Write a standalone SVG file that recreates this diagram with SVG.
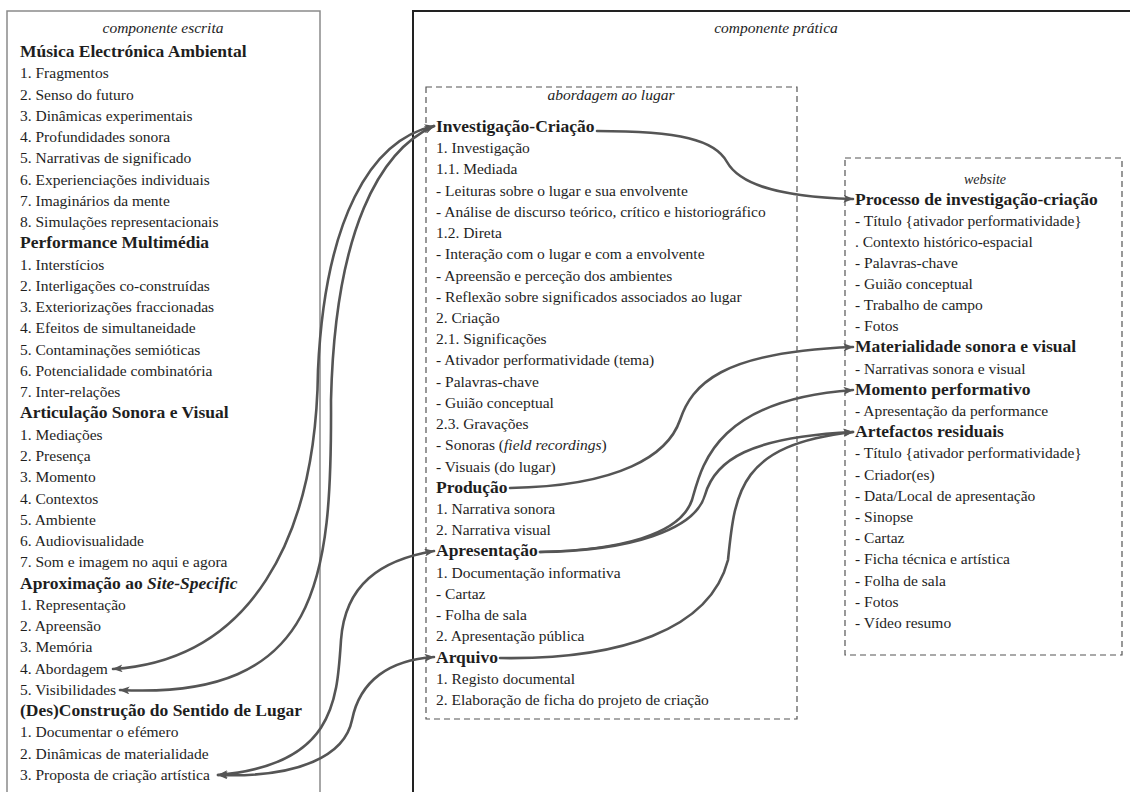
<svg xmlns="http://www.w3.org/2000/svg" width="1130" height="792" viewBox="0 0 1130 792">
  <style>
    text { font-family: "Liberation Serif", "DejaVu Serif", serif; fill: #1e1e1e; }
    .item { font-size: 15.5px; }
    .head { font-size: 17.5px; font-weight: bold; }
    .cap { font-size: 15.5px; font-style: italic; text-anchor: middle; }
    .cap-small { font-size: 14px; font-style: italic; text-anchor: middle; }
    .it { font-style: italic; }
    .frame-light { fill: none; stroke: #8a8a8a; stroke-width: 1.5; }
    .frame-dark { fill: none; stroke: #222; stroke-width: 2; }
    .dash { fill: none; stroke: #555; stroke-width: 1.2; stroke-dasharray: 6 4; }
    .link { fill: none; stroke: #555; stroke-width: 2.6; stroke-linecap: round; }
  </style>
  <defs>
    <marker id="arrow" viewBox="0 0 10 8" refX="9.5" refY="4" markerWidth="10" markerHeight="8" markerUnits="userSpaceOnUse" orient="auto-start-reverse">
      <path d="M0,0 L10,4 L0,8 L2.5,4 z" fill="#555"/>
    </marker>
  </defs>
  <rect width="1130" height="792" fill="#fff"/>

  <!-- written component -->
  <g id="componente-escrita">
    <path class="frame-light" d="M7,795 V11 H320 V795"/>
    <text class="cap" x="163" y="33">componente escrita</text>
    <g id="musica-electronica">
      <text class="head" x="20" y="57">Música Electrónica Ambiental</text>
      <text class="item" x="20" y="78.3">1. Fragmentos</text>
      <text class="item" x="20" y="99.5">2. Senso do futuro</text>
      <text class="item" x="20" y="120.8">3. Dinâmicas experimentais</text>
      <text class="item" x="20" y="142">4. Profundidades  sonora</text>
      <text class="item" x="20" y="163.3">5. Narrativas de significado</text>
      <text class="item" x="20" y="184.6">6. Experienciações individuais</text>
      <text class="item" x="20" y="205.8">7. Imaginários da mente</text>
      <text class="item" x="20" y="227.1">8. Simulações representacionais</text>
    </g>
    <g id="performance-multimedia">
      <text class="head" x="20" y="248.3">Performance Multimédia</text>
      <text class="item" x="20" y="269.6">1. Interstícios</text>
      <text class="item" x="20" y="290.9">2. Interligações co-construídas</text>
      <text class="item" x="20" y="312.1">3. Exteriorizações fraccionadas</text>
      <text class="item" x="20" y="333.4">4. Efeitos de simultaneidade</text>
      <text class="item" x="20" y="354.6">5. Contaminações semióticas</text>
      <text class="item" x="20" y="375.9">6. Potencialidade combinatória</text>
      <text class="item" x="20" y="397.2">7. Inter-relações</text>
    </g>
    <g id="articulacao">
      <text class="head" x="20" y="418.4">Articulação Sonora e Visual</text>
      <text class="item" x="20" y="439.7">1. Mediações</text>
      <text class="item" x="20" y="460.9">2. Presença</text>
      <text class="item" x="20" y="482.2">3. Momento</text>
      <text class="item" x="20" y="503.5">4. Contextos</text>
      <text class="item" x="20" y="524.7">5. Ambiente</text>
      <text class="item" x="20" y="546">6. Audiovisualidade</text>
      <text class="item" x="20" y="567.2">7. Som e imagem no aqui e agora</text>
    </g>
    <g id="aproximacao">
      <text class="head" x="20" y="588.5">Aproximação ao <tspan class="it">Site-Specific</tspan></text>
      <text class="item" x="20" y="609.8">1. Representação</text>
      <text class="item" x="20" y="631">2. Apreensão</text>
      <text class="item" x="20" y="652.3">3. Memória</text>
      <text class="item" x="20" y="673.5">4. Abordagem</text>
      <text class="item" x="20" y="694.8">5. Visibilidades</text>
    </g>
    <g id="desconstrucao">
      <text class="head" x="20" y="716.1">(Des)Construção do Sentido de Lugar</text>
      <text class="item" x="20" y="737.3">1. Documentar o efémero</text>
      <text class="item" x="20" y="758.6">2. Dinâmicas de materialidade</text>
      <text class="item" x="20" y="779.8">3. Proposta de criação artística</text>
    </g>
  </g>

  <!-- practical component -->
  <g id="componente-pratica">
    <path class="frame-dark" d="M413,795 V11 H1135"/>
    <text class="cap" x="776" y="33">componente prática</text>
  </g>

  <g id="abordagem-ao-lugar">
    <rect class="dash" x="426" y="87" width="371" height="632"/>
    <text class="cap" x="611" y="100">abordagem ao lugar</text>
    <g id="investigacao-criacao">
      <text class="head" x="436" y="132">Investigação-Criação</text>
      <text class="item" x="436" y="153.2">1. Investigação</text>
      <text class="item" x="436" y="174.4">1.1. Mediada</text>
      <text class="item" x="436" y="195.7">- Leituras sobre o lugar e sua envolvente</text>
      <text class="item" x="436" y="216.9">- Análise de discurso teórico, crítico e historiográfico</text>
      <text class="item" x="436" y="238.1">1.2. Direta</text>
      <text class="item" x="436" y="259.3">- Interação com o lugar e com a envolvente</text>
      <text class="item" x="436" y="280.5">- Apreensão e perceção dos ambientes</text>
      <text class="item" x="436" y="301.8">- Reflexão sobre significados associados ao lugar</text>
      <text class="item" x="436" y="323">2. Criação</text>
      <text class="item" x="436" y="344.2">2.1. Significações</text>
      <text class="item" x="436" y="365.4">- Ativador performatividade  (tema)</text>
      <text class="item" x="436" y="386.6">- Palavras-chave</text>
      <text class="item" x="436" y="407.9">- Guião conceptual</text>
      <text class="item" x="436" y="429.1">2.3. Gravações</text>
      <text class="item" x="436" y="450.3">- Sonoras (<tspan class="it">field recordings</tspan>)</text>
      <text class="item" x="436" y="471.5">- Visuais (do lugar)</text>
    </g>
    <g id="producao">
      <text class="head" x="436" y="492.7">Produção</text>
      <text class="item" x="436" y="514">1. Narrativa sonora</text>
      <text class="item" x="436" y="535.2">2. Narrativa visual</text>
    </g>
    <g id="apresentacao">
      <text class="head" x="436" y="556.4">Apresentação</text>
      <text class="item" x="436" y="577.6">1. Documentação informativa</text>
      <text class="item" x="436" y="598.8">- Cartaz</text>
      <text class="item" x="436" y="620.1">- Folha de sala</text>
      <text class="item" x="436" y="641.3">2. Apresentação pública</text>
    </g>
    <g id="arquivo">
      <text class="head" x="436" y="662.5">Arquivo</text>
      <text class="item" x="436" y="683.7">1. Registo documental</text>
      <text class="item" x="436" y="704.9">2. Elaboração de ficha do projeto de criação</text>
    </g>
  </g>

  <g id="website">
    <rect class="dash" x="845" y="158" width="277" height="497"/>
    <text class="cap-small" x="985" y="184">website</text>
    <g id="processo">
      <text class="head" x="855" y="205">Processo de investigação-criação</text>
      <text class="item" x="855" y="225.6">- Título {ativador performatividade}</text>
      <text class="item" x="855" y="246.8">. Contexto histórico-espacial</text>
      <text class="item" x="855" y="268">- Palavras-chave</text>
      <text class="item" x="855" y="289.2">- Guião conceptual</text>
      <text class="item" x="855" y="310.4">- Trabalho de campo</text>
      <text class="item" x="855" y="331.4">- Fotos</text>
    </g>
    <g id="materialidade">
      <text class="head" x="855" y="352.4">Materialidade sonora e visual</text>
      <text class="item" x="855" y="373.6">- Narrativas sonora e visual</text>
    </g>
    <g id="momento">
      <text class="head" x="855" y="394.8">Momento performativo</text>
      <text class="item" x="855" y="416">- Apresentação da performance</text>
    </g>
    <g id="artefactos">
      <text class="head" x="855" y="437.2">Artefactos residuais</text>
      <text class="item" x="855" y="458.4">- Título {ativador performatividade}</text>
      <text class="item" x="855" y="479.6">- Criador(es)</text>
      <text class="item" x="855" y="500.8">- Data/Local de apresentação</text>
      <text class="item" x="855" y="522">- Sinopse</text>
      <text class="item" x="855" y="543.2">- Cartaz</text>
      <text class="item" x="855" y="564.4">- Ficha técnica e artística</text>
      <text class="item" x="855" y="585.6">- Folha de sala</text>
      <text class="item" x="855" y="606.8">- Fotos</text>
      <text class="item" x="855" y="628">- Vídeo resumo</text>
    </g>
  </g>

  <!-- connectors -->
  <g id="connectors">
    <!-- Investigação-Criação to the written component -->
    <path class="link" marker-start="url(#arrow)" marker-end="url(#arrow)" d="M434,126 C370,140 325,220 318,370 C316,540 250,660 113,669"/>
    <path class="link" marker-start="url(#arrow)" marker-end="url(#arrow)" d="M434,126 C380,150 335,230 331,400 C332,580 320,700 120,690"/>
    <!-- Apresentação / Arquivo to the written component -->
    <path class="link" marker-start="url(#arrow)" marker-end="url(#arrow)" d="M434,551 C380,560 345,585 341,640 C337,700 335,765 218,775"/>
    <path class="link" marker-start="url(#arrow)" marker-end="url(#arrow)" d="M434,657 C390,660 360,680 352,720 C345,755 300,778 218,775"/>
    <!-- abordagem ao lugar to website -->
    <path class="link" marker-end="url(#arrow)" d="M597,131 C680,131 715,140 727,162 C740,185 780,197 853,199"/>
    <path class="link" marker-end="url(#arrow)" d="M510,488 C620,486 668,455 680,420 C692,385 720,352 853,347"/>
    <path class="link" marker-end="url(#arrow)" d="M540,552 C620,550 680,535 692,500 C702,465 715,400 853,390"/>
    <path class="link" marker-end="url(#arrow)" d="M540,552 C630,551 695,530 705,495 C715,460 750,437 853,432"/>
    <path class="link" marker-end="url(#arrow)" d="M500,658 C620,660 710,630 728,560 C735,490 740,445 853,432"/>
  </g>
</svg>
